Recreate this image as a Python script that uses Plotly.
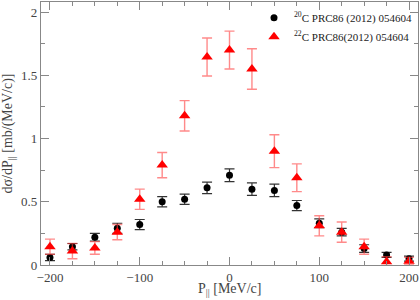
import plotly.graph_objects as go

p_vals = [-200, -175, -150, -125, -100, -75, -50, -25, 0, 25, 50, 75, 100, 125, 150, 175, 200]
c20_vals = [0.06, 0.145, 0.22, 0.29, 0.32, 0.50, 0.52, 0.61, 0.71, 0.60, 0.59, 0.47, 0.33, 0.26, 0.13, 0.08, 0.05]
c20_err = [0.025, 0.025, 0.03, 0.04, 0.04, 0.04, 0.04, 0.045, 0.05, 0.05, 0.05, 0.04, 0.035, 0.03, 0.03, 0.02, 0.02]
c22_vals = [0.145, 0.11, 0.135, 0.26, 0.52, 0.79, 1.18, 1.645, 1.70, 1.55, 0.90, 0.69, 0.31, 0.26, 0.145, 0.025, 0.03]
c22_err = [0.06, 0.06, 0.05, 0.06, 0.08, 0.10, 0.12, 0.15, 0.15, 0.16, 0.13, 0.11, 0.08, 0.08, 0.06, 0.04, 0.03]
x_ticks = [-200, -100, 0, 100, 200]
y_ticks = [0, 0.5, 1, 1.5, 2]
y_tick_labels = ["0", "0.5", "1", "1.5", "2"]

font = "Liberation Serif, Times New Roman, serif"
fig = go.Figure()
fig.add_trace(go.Scatter(
    x=p_vals, y=c20_vals, mode="markers",
    name="<sup>20</sup>C PRC86 (2012) 054604",
    marker=dict(symbol="circle", size=7, color="black"),
    error_y=dict(type="data", array=c20_err, color="rgba(0,0,0,0.8)", thickness=1.2, width=5),
))
fig.add_trace(go.Scatter(
    x=p_vals, y=c22_vals, mode="markers",
    name="<sup>22</sup>C PRC86(2012) 054604",
    marker=dict(symbol="triangle-up", size=10, color="red"),
    error_y=dict(type="data", array=c22_err, color="rgba(255,60,60,0.6)", thickness=1.4, width=5),
))

axis_common = dict(
    showline=True, linecolor="#888", linewidth=1.2, mirror="ticks",
    ticks="inside", tickcolor="#888", ticklen=8, tickwidth=1,
    showgrid=False, zeroline=False, automargin=False,
    tickfont=dict(family=font, size=13, color="#444"),
)
fig.update_xaxes(
    range=[-210, 210], tickvals=x_ticks,
    minor=dict(ticks="inside", dtick=25, tick0=0, ticklen=4, tickcolor="#888"),
    **axis_common,
)
fig.update_yaxes(
    range=[0, 2.08], tickvals=y_ticks, ticktext=y_tick_labels,
    minor=dict(ticks="inside", dtick=0.25, tick0=0, ticklen=4, tickcolor="#888"),
    **axis_common,
)
fig.add_annotation(
    text="P<sub>||</sub> [MeV/c]", xref="paper", yref="paper", x=0.5, y=-0.092,
    xanchor="center", yanchor="middle", showarrow=False,
    font=dict(family=font, size=14, color="#444"),
)
fig.add_annotation(
    text="dσ/dP<sub>||</sub> [mb/(MeV/c)]", xref="paper", yref="paper", x=-0.085, y=0.5,
    xanchor="center", yanchor="middle", showarrow=False, textangle=-90,
    font=dict(family=font, size=14, color="#444"),
)
fig.update_layout(
    width=420, height=300,
    margin=dict(l=41, r=2, t=2, b=35, autoexpand=False),
    plot_bgcolor="white", paper_bgcolor="white",
    legend=dict(x=0.565, y=0.995, xanchor="left", yanchor="top",
                font=dict(family=font, size=11, color="#222"),
                bgcolor="rgba(0,0,0,0)", tracegroupgap=0, itemwidth=30),
    showlegend=True,
)
fig.write_html("out.html", config={"displayModeBar": False},
               post_script="document.body.style.margin='0';document.body.style.overflow='hidden';")
